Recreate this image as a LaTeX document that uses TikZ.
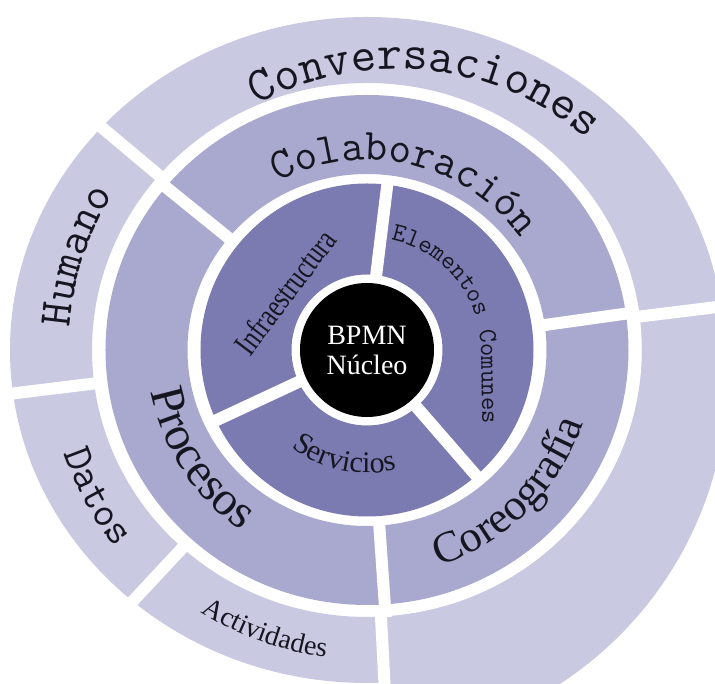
\documentclass[tikz,border=0pt]{standalone}
\usepackage{fontspec}
\newfontfamily\lserif{Liberation Serif}
\usetikzlibrary{decorations.text}
\definecolor{ringA}{RGB}{201,201,226}
\definecolor{ringB}{RGB}{169,169,207}
\definecolor{ringC}{RGB}{123,122,177}
\definecolor{labelink}{RGB}{22,22,32}
\begin{document}
\begin{tikzpicture}[x=1pt,y=1pt,
  gap/.style={white, line width=12pt},
  arclabel/.style={decorate, decoration={text along path, text align=center, text color=labelink}},
]
\useasboundingbox (-367,-334) rectangle (348,350);
% outer ring
\fill[ringA, even odd rule] (0,0) ellipse[x radius=357, y radius=333]
                            (0,0) ellipse[x radius=275, y radius=267];
% the lower right piece of the outer ring bulges further out
\begin{scope}
  \clip (0,0) -- (7:600) arc[start angle=7, end angle=-87, radius=600] -- cycle;
  \fill[ringA, even odd rule] (-8,-25) circle[radius=368.5]
                              (0,0) ellipse[x radius=275, y radius=267];
\end{scope}
% middle and inner rings
\fill[ringB, even odd rule] (0,0) ellipse[x radius=261.5, y radius=255]
                            (0,0) ellipse[x radius=179.5, y radius=176];
\fill[ringC, even odd rule] (0,0) circle[radius=166.5]
                            (0,0) circle[radius=75.5];
% white cuts between the segments
\foreach \a in {140,187,227,273,7} \draw[gap] (\a:266) -- (\a:420);
\foreach \a in {141,8,274} \draw[gap] (\a:172) -- (\a:268);
\foreach \a in {83,205,311} \draw[gap] (\a:72) -- (\a:172);
% core
\node[circle, fill=black, minimum size=134pt, inner sep=0pt, align=center,
      text=white, font=\lserif\fontsize{28}{30}\selectfont] (core) at (0,0) {BPMN\\Núcleo};
% outer ring labels
\path[arclabel, decoration={text={|\ttfamily\fontsize{49}{49}\selectfont|Conversaciones}}]
  ([shift={(30,-12)}]160:293) arc[start angle=160, end angle=8, radius=293];
\path[arclabel, decoration={text={|\ttfamily\fontsize{46}{46}\selectfont|Humano}}]
  (215:298) arc[start angle=215, end angle=109, radius=298];
\path[arclabel, decoration={text={|\ttfamily\fontsize{42}{42}\selectfont|Datos}}]
  (170:320) arc[start angle=170, end angle=247, radius=320];
\path[arclabel, decoration={text={|\lserif\fontsize{28}{28}\selectfont|Actividades}}]
  (210:310) arc[start angle=210, end angle=290, radius=310];
% middle ring labels
\path[arclabel, decoration={text={|\ttfamily\fontsize{44}{44}\selectfont|Colaboración}}]
  (160:190) arc[start angle=160, end angle=-6, radius=190];
\path[arclabel, decoration={text={|\lserif\fontsize{48}{48}\selectfont|Procesos}}]
  (170:220) arc[start angle=170, end angle=256, radius=220];
\path[arclabel, decoration={text={|\lserif\fontsize{44}{44}\selectfont|Coreografía}}]
  (-95:228) arc[start angle=-95, end angle=5, radius=228];
% inner ring labels
\coordinate (ecStart) at (24,110);
\coordinate (ecBend) at (114,0);
\coordinate (ecEnd) at (117,-150);
\path[decorate, decoration={text along path, text color=labelink,
      text={|\ttfamily\fontsize{26}{26}\selectfont|Elementos Comunes}}]
  (ecStart) .. controls (75,100) and (113,55) .. (ecBend) -- (ecEnd);
\path[arclabel, decoration={text={|\lserif\fontsize{30}{30}\selectfont|Servicios}}]
  (215:123) arc[start angle=215, end angle=301, radius=123];
\node[rotate=53, xscale=0.75, text=labelink, font=\lserif\fontsize{33}{33}\selectfont] (infra) at (-82,58) {Infraestructura};
\end{tikzpicture}
\end{document}
